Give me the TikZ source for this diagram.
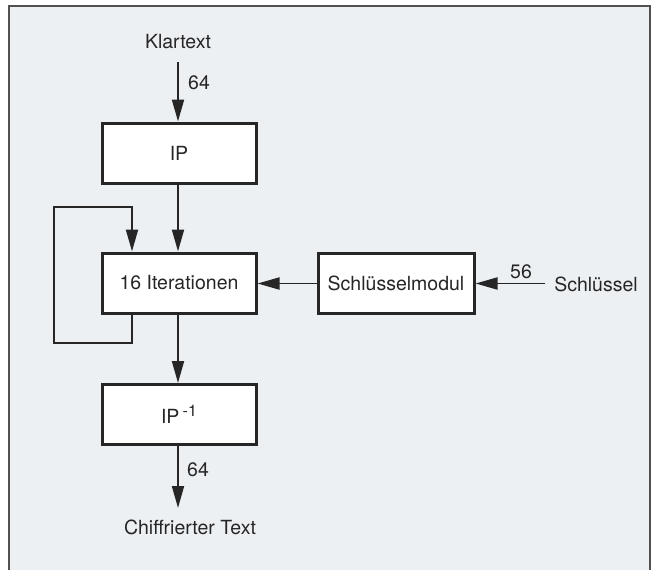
\documentclass[tikz,border=0pt]{standalone}
\usepackage{fontspec}
\setmainfont{TeX Gyre Heros}
\usetikzlibrary{arrows.meta}
\definecolor{ink}{HTML}{262626}
\definecolor{paper}{HTML}{EDF0F3}
\tikzset{
  blockbox/.style={draw=ink, line width=3pt, fill=white, minimum width=154pt, minimum height=60pt, inner sep=0pt, font=\fontsize{19.5}{22}\selectfont, text=ink},
  lbl/.style={inner sep=0pt, font=\fontsize{19.5}{22}\selectfont, text=ink},
  flow/.style={draw=ink, line width=1.8pt, -{Triangle[length=22pt,width=12pt]}},
  plainline/.style={draw=ink, line width=1.8pt}
}
\begin{document}
\begin{tikzpicture}[x=1pt,y=-1pt]
\useasboundingbox (0,0) rectangle (657,570);
\fill[white] (0,0) rectangle (657,570);
\begin{scope}
\clip (0,0) rectangle (657,570);
\draw[fill=paper, draw=ink!80, line width=1.5pt] (9,6) rectangle (650,590);
\end{scope}

\node[blockbox] (ip) at (179,153) {IP};
\node[blockbox] (iter) at (179,283) {16 Iterationen};
\node[blockbox, minimum width=156pt] (keymod) at (396,283.5) {Schlüsselmodul};
\node[blockbox] (ipinv) at (179,414.5) {IP\,\raisebox{7pt}{\fontsize{16}{18}\selectfont -1}};

\node[lbl] (klar) at (178,42) {Klartext};
\coordinate (klarend) at (178,62);
\node[lbl] (n64a) at (199,83) {64};

\node[lbl] (chiff) at (190,527) {Chiffrierter Text};
\coordinate (chiffend) at (178,508);
\node[lbl] (n64b) at (198,470) {64};

\node[lbl] (schl) at (596,284) {Schlüssel};
\coordinate (schlstart) at (545,283.5);
\node[lbl] (n56) at (521,272) {56};

\draw[flow] (klarend) -- (ip.north -| klarend);
\draw[flow] (ip.south -| klarend) -- (iter.north -| klarend);
\draw[flow] (iter.south -| klarend) -- (ipinv.north -| klarend);
\draw[flow] (ipinv.south -| klarend) -- (chiffend);
\draw[flow] (schlstart) -- (keymod.east);
\draw[flow] (keymod.west) -- (iter.east |- keymod.west);

\coordinate (lb) at (132,343);
\coordinate (lt) at (132,207);
\draw[flow] (iter.south -| lb) -- (lb) -- (54,343) -- (54,207) -- (lt) -- (iter.north -| lt);
\end{tikzpicture}
\end{document}
